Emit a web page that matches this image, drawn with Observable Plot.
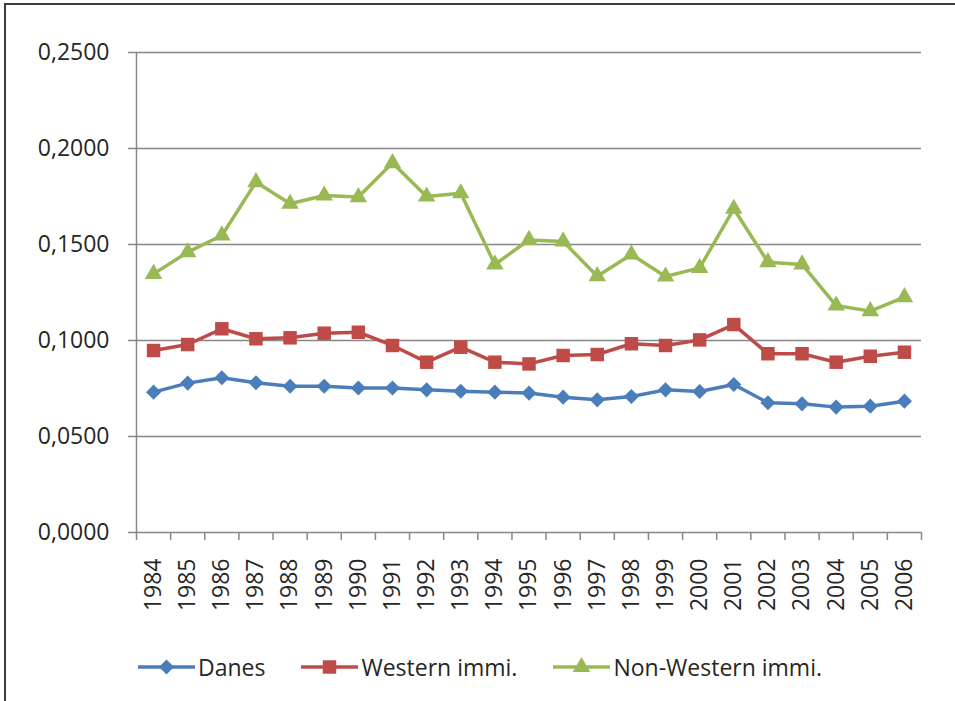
<!DOCTYPE html>
<html>
<head>
<meta charset="utf-8">
<script src="https://cdn.jsdelivr.net/npm/d3@7"></script>
<script src="https://cdn.jsdelivr.net/npm/@observablehq/plot@0.6"></script>
<style>
  html, body { margin: 0; padding: 0; background: #fff; }
  #wrap { position: relative; width: 955px; height: 701px; overflow: hidden; font-family: "Open Sans", sans-serif; }
  #frame { position: absolute; left: 4px; top: 3px; right: -10px; bottom: -10px; border-top: 2px solid #3c3c3c; border-left: 2px solid #3c3c3c; }
  #chart { position: absolute; left: 0; top: 0; }
  #legend { position: absolute; left: 138px; top: 651px; display: flex; align-items: center; font-size: 23px; color: #262626; }
  .item { display: flex; align-items: center; margin-right: 36px; }
  .item svg { margin-right: 3px; }
</style>
</head>
<body>
<div id="wrap">
  <div id="frame"></div>
  <div id="chart"></div>
  <div id="legend"></div>
</div>
<script>
const years = [1984, 1985, 1986, 1987, 1988, 1989, 1990, 1991, 1992, 1993, 1994, 1995,
               1996, 1997, 1998, 1999, 2000, 2001, 2002, 2003, 2004, 2005, 2006];
const danes = [0.0731, 0.0778, 0.0806, 0.0780, 0.0762, 0.0762, 0.0753, 0.0753, 0.0743, 0.0736, 0.0731, 0.0726,
               0.0705, 0.0691, 0.0708, 0.0743, 0.0734, 0.0771, 0.0676, 0.0670, 0.0653, 0.0658, 0.0684];
const western = [0.0948, 0.0979, 0.1061, 0.1009, 0.1014, 0.1038, 0.1043, 0.0974, 0.0887, 0.0965, 0.0887, 0.0878,
                 0.0922, 0.0927, 0.0983, 0.0974, 0.1003, 0.1083, 0.0931, 0.0931, 0.0887, 0.0918, 0.0939];
const nonWestern = [0.1347, 0.1460, 0.1547, 0.1825, 0.1712, 0.1755, 0.1747, 0.1924, 0.1750, 0.1767, 0.1396, 0.1524,
                    0.1516, 0.1335, 0.1448, 0.1333, 0.1378, 0.1686, 0.1408, 0.1396, 0.1182, 0.1153, 0.1226];
const seriesNames = ["Danes", "Western immi.", "Non-Western immi."];
const seriesColors = ["#4A7EBB", "#BE4B48", "#98B954"];
const seriesSymbols = ["diamond2", "square", "triangle"];
const symbolR = [6.8, 7.6, 6.5];
const yTicks = [0, 0.05, 0.10, 0.15, 0.20, 0.25];

const seriesValues = [danes, western, nonWestern];
const table = seriesNames.flatMap((name, s) =>
  years.map((yr, i) => ({year: yr, value: seriesValues[s][i], series: name})));
const boundaries = years.map(y => y - 0.5).concat([years[years.length - 1] + 0.5]);
const gray = "#878787";
const fmt = d => d.toFixed(4).replace(".", ",");

const marks = [
  Plot.ruleY(yTicks, {stroke: gray, strokeWidth: 1.5}),
  Plot.ruleX([boundaries[0]], {y1: yTicks[0], y2: yTicks[yTicks.length - 1], stroke: gray, strokeWidth: 1.5}),
  Plot.axisY({ticks: yTicks, tickSize: 8, tickPadding: 19, tickFormat: fmt, stroke: gray, strokeWidth: 1.5,
              fill: "#262626", fontSize: 23, label: null}),
  Plot.axisX({ticks: boundaries, tickSize: 8, tickFormat: () => "", stroke: gray, strokeWidth: 1.5, label: null}),
  Plot.axisX({ticks: years, tickSize: 0, tickPadding: 26, tickRotate: -90, tickFormat: d => String(d),
              fill: "#262626", fontSize: 23, label: null})
];
seriesNames.forEach((name, s) => {
  const data = table.filter(d => d.series === name);
  marks.push(Plot.line(data, {x: "year", y: "value", stroke: seriesColors[s], strokeWidth: 3.5}));
  marks.push(Plot.dot(data, {x: "year", y: "value", symbol: () => seriesSymbols[s], fill: seriesColors[s],
                             stroke: "none", r: symbolR[s]}));
});

const chart = Plot.plot({
  width: 955,
  height: 625,
  marginLeft: 136,
  marginRight: 34,
  marginTop: 52,
  marginBottom: 93,
  style: {fontFamily: "Open Sans", fontSize: "23px", color: "#262626", background: "transparent", overflow: "visible"},
  x: {type: "linear", domain: [boundaries[0], boundaries[boundaries.length - 1]], axis: null},
  y: {domain: [yTicks[0], yTicks[yTicks.length - 1]], axis: null},
  symbol: {type: "identity"},
  marks
});
document.getElementById("chart").appendChild(chart);

// legend
const legend = document.getElementById("legend");
const d3Sym = {diamond2: d3.symbolDiamond2, square: d3.symbolSquare, triangle: d3.symbolTriangle};
seriesNames.forEach((name, s) => {
  const item = document.createElement("div");
  item.className = "item";
  const svg = d3.create("svg").attr("width", 57).attr("height", 30);
  svg.append("line").attr("x1", 0).attr("x2", 57).attr("y1", 15).attr("y2", 15)
     .attr("stroke", seriesColors[s]).attr("stroke-width", 3.5);
  svg.append("path").attr("transform", "translate(28.5,15)")
     .attr("d", d3.symbol(d3Sym[seriesSymbols[s]], Math.PI * symbolR[s] * symbolR[s])())
     .attr("fill", seriesColors[s]);
  item.appendChild(svg.node());
  const span = document.createElement("span");
  span.textContent = name;
  item.appendChild(span);
  legend.appendChild(item);
});
</script>
</body>
</html>
